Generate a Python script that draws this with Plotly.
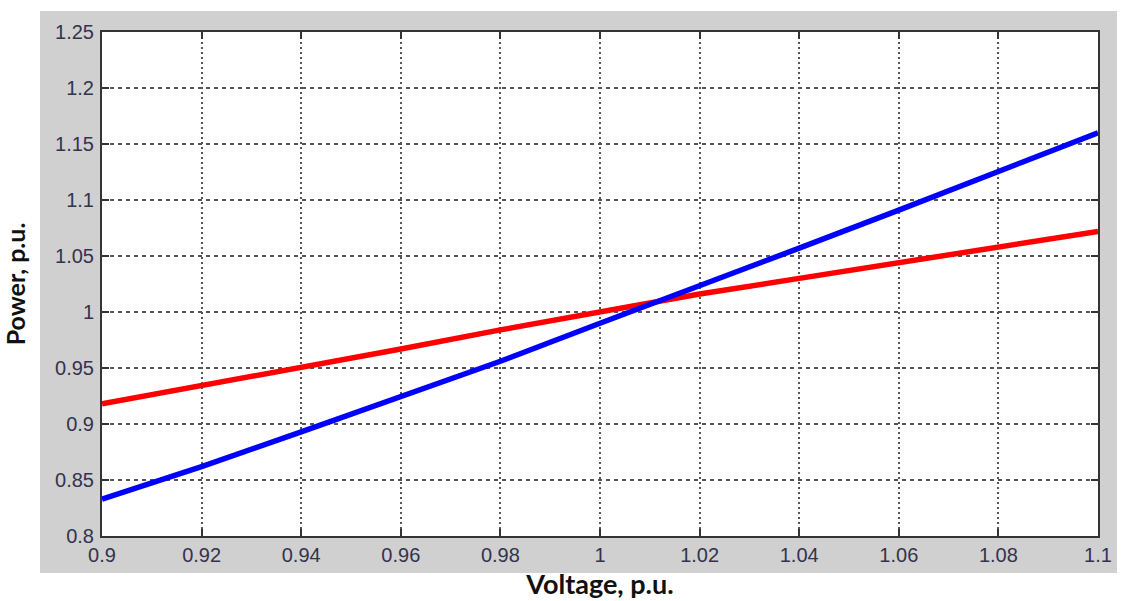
import plotly.graph_objects as go

voltage = [0.90, 0.92, 0.94, 0.96, 0.98, 1.00, 1.02, 1.04, 1.06, 1.08, 1.10]
power_blue = [0.833, 0.862, 0.893, 0.924, 0.956, 0.990, 1.023, 1.057, 1.091, 1.125, 1.160]
power_red = [0.918, 0.934, 0.951, 0.967, 0.984, 1.000, 1.016, 1.030, 1.044, 1.058, 1.072]

x_ticks = [0.9, 0.92, 0.94, 0.96, 0.98, 1.0, 1.02, 1.04, 1.06, 1.08, 1.1]
x_labels = ["0.9", "0.92", "0.94", "0.96", "0.98", "1", "1.02", "1.04", "1.06", "1.08", "1.1"]
y_ticks = [0.8, 0.85, 0.9, 0.95, 1.0, 1.05, 1.1, 1.15, 1.2, 1.25]
y_labels = ["0.8", "0.85", "0.9", "0.95", "1", "1.05", "1.1", "1.15", "1.2", "1.25"]

fig = go.Figure()
fig.add_trace(go.Scatter(x=voltage, y=power_red, mode="lines",
                         line=dict(color="#ff0000", width=5.5), showlegend=False))
fig.add_trace(go.Scatter(x=voltage, y=power_blue, mode="lines",
                         line=dict(color="#0000ff", width=5.5), showlegend=False))

W, H = 1124, 601
l, r, t, b = 102, 26, 32, 65
pw, ph = W - l - r, H - t - b

def px_x(p):
    return (p - l) / pw

def px_y(p):
    return (H - b - p) / ph

fig.add_shape(type="rect", xref="paper", yref="paper",
              x0=px_x(40), x1=px_x(1117), y0=px_y(573), y1=px_y(11),
              fillcolor="#d0d0d0", line=dict(width=0), layer="below")
fig.add_shape(type="rect", xref="paper", yref="paper",
              x0=0, x1=1, y0=0, y1=1,
              fillcolor="white", line=dict(width=0), layer="below")

tick_font = dict(family="Liberation Sans, Arial", size=20, color="#33334d")

fig.update_layout(
    width=W, height=H,
    margin=dict(l=l, r=r, t=t, b=b, pad=0),
    paper_bgcolor="white",
    plot_bgcolor="white",
    xaxis=dict(range=[0.9, 1.1], tickvals=x_ticks, ticktext=x_labels,
               showgrid=True, gridcolor="#555555", gridwidth=1.5, griddash="2px,3px",
               showline=True, linecolor="#333333", linewidth=2, mirror="ticks",
               ticks="inside", ticklen=7, tickwidth=1.5, tickcolor="#333333",
               tickfont=tick_font, zeroline=False, automargin=False,
               title=dict(text="Voltage, p.u.", standoff=10,
                          font=dict(family="Lato", size=27, color="#111111", weight="bold"))),
    yaxis=dict(range=[0.8, 1.25], tickvals=y_ticks, ticktext=y_labels,
               showgrid=True, gridcolor="#555555", gridwidth=1.5, griddash="4px,4px",
               showline=True, linecolor="#333333", linewidth=2, mirror="ticks",
               ticks="inside", ticklen=7, tickwidth=1.5, tickcolor="#333333",
               tickfont=tick_font, zeroline=False, ticklabelstandoff=2, automargin=False,
               title=dict(text="Power, p.u.", standoff=24,
                          font=dict(family="Lato", size=25, color="#111111", weight="bold"))),
)

fig.write_html("out.html")
